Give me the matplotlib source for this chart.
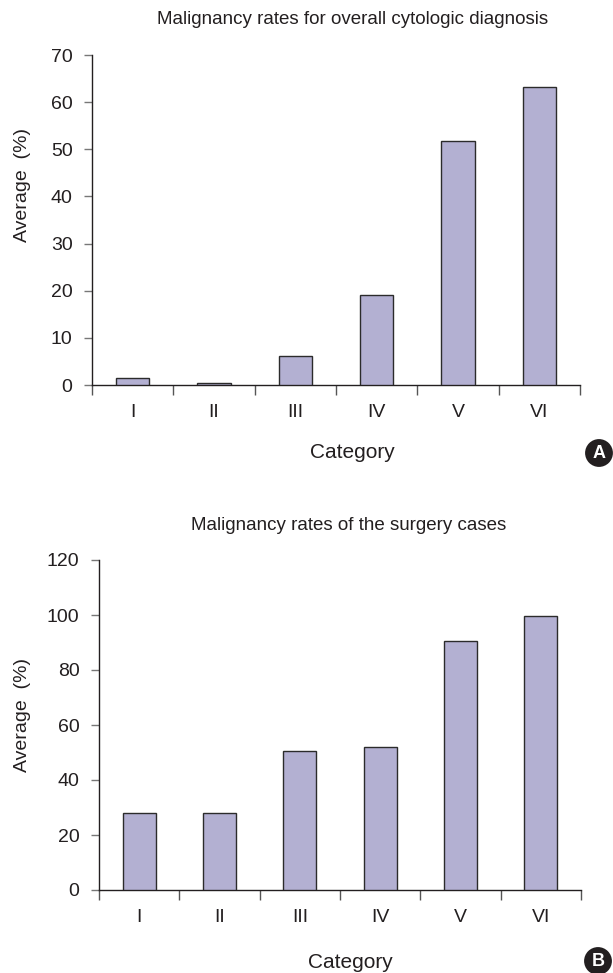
import numpy as np
import matplotlib.pyplot as plt

plt.rcParams['font.family'] = ['Liberation Sans', 'DejaVu Sans']

categories = ["I", "II", "III", "IV", "V", "VI"]
overall_rates = [1.4, 0.5, 6.2, 19.0, 51.8, 63.2]
surgery_rates = [28.0, 28.0, 50.5, 52.0, 90.5, 99.6]

title_a = "Malignancy rates for overall cytologic diagnosis"
title_b = "Malignancy rates of the surgery cases"

W, H = 613, 973
bar_color = '#b3b0d2'
edge_color = '#2b2b2b'


def fx(px):
    return px / W


def fy(py):
    return 1 - py / H


def draw_panel(ax, values, ymax, ystep):
    x = np.arange(len(categories))
    ax.bar(x, values, width=0.41, color=bar_color, edgecolor=edge_color,
           linewidth=1.0, zorder=3)
    ax.set_xlim(-0.5, len(categories) - 0.5)
    ax.set_ylim(0, ymax)
    ax.set_yticks(np.arange(0, ymax + 1, ystep))
    ax.set_xticks(np.arange(len(categories) + 1) - 0.5, labels=[])
    ax.set_xticks(x, labels=categories, minor=True)
    ax.tick_params(axis='x', which='major', direction='out', length=7,
                   width=1, color='#555555')
    ax.tick_params(axis='x', which='minor', length=0, pad=14,
                   labelsize=14, labelcolor='#231f20')
    ax.tick_params(axis='y', direction='out', length=6, width=1,
                   color='#777777', pad=8, labelsize=14,
                   labelcolor='#231f20')
    for s in ['top', 'right']:
        ax.spines[s].set_visible(False)
    for s in ['left', 'bottom']:
        ax.spines[s].set_color('#231f20')
        ax.spines[s].set_linewidth(1.0)


fig = plt.figure(figsize=(W / 100, H / 100), dpi=100)

ax_a = fig.add_axes([fx(92), fy(385), fx(580 - 92), 330 / H])
draw_panel(ax_a, overall_rates, 70, 10)

ax_b = fig.add_axes([fx(99), fy(890), fx(581 - 99), 330 / H])
draw_panel(ax_b, surgery_rates, 120, 20)

txt = dict(color='#231f20', ha='center', va='center')
fig.text(fx(353), fy(20), title_a, fontsize=13.5, **txt)
fig.text(fx(349), fy(525), title_b, fontsize=13.5, **txt)
fig.text(fx(23), fy(185), "Average  (%)", fontsize=14, rotation=90, **txt)
fig.text(fx(23), fy(715), "Average  (%)", fontsize=14, rotation=90, **txt)
fig.text(fx(352), fy(453), "Category", fontsize=15, **txt)
fig.text(fx(350), fy(962), "Category", fontsize=15, **txt)

badge = dict(boxstyle='circle,pad=0.3', fc='#231f20', ec='none')
fig.text(fx(599), fy(453), "A", fontsize=13, fontweight='bold', color='white',
         ha='center', va='center', bbox=badge)
fig.text(fx(598), fy(961), "B", fontsize=13, fontweight='bold', color='white',
         ha='center', va='center', bbox=badge)

fig.savefig("out.png", dpi=100)
